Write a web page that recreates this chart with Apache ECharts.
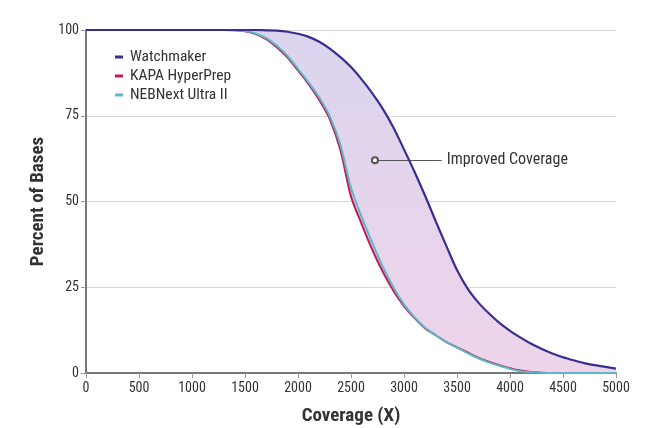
<!DOCTYPE html>
<html><head><meta charset="utf-8">
<script src="https://cdn.jsdelivr.net/npm/echarts@6/dist/echarts.min.js"></script>
<style>html,body{margin:0;padding:0;background:#fff}#c{width:646px;height:428px}</style>
</head><body><div id="c"></div>
<script>
var coverage = [0,100,200,300,400,500,600,700,800,900,1000,1100,1200,1300,1400,1500,1600,1700,1800,1900,2000,2100,2200,2300,2400,2500,2600,2700,2800,2900,3000,3100,3200,3300,3400,3500,3600,3700,3800,3900,4000,4100,4200,4300,4400,4500,4600,4700,4800,4900,5000];
var watchmaker = [100,100,100,100,100,100,100,100,100,100,100,100,100,100,100,100,100,99.9,99.8,99.5,98.9,98,96.6,94.6,92.1,89.2,85.6,81.6,77,71.6,65.2,58.6,51.6,44.2,37,30,24.6,20.6,17.4,14.6,12.3,10.3,8.5,7,5.7,4.6,3.7,2.9,2.3,1.8,1.3];
var kapa = [100,100,100,100,100,100,100,100,100,100,100,100,100,100,99.9,99.6,98.8,97.3,95,92,88.2,84.2,79.6,74,65,51.5,43.5,36,29.5,24,19.5,16,13,11,9,7.5,6,4.5,3.3,2.3,1.4,0.7,0.3,0.1,0,0,0,0,0,0,0];
var nebnext = [100,100,100,100,100,100,100,100,100,100,100,100,100,100,99.9,99.7,99,97.6,95.4,92.5,88.7,84.7,80.3,74.8,66.5,54,45.5,38,31,25,20,16.2,13.2,11,9,7.4,5.8,4.3,3.1,2.1,1.2,0.5,0.2,0.05,0,0,0,0,0,0,0];
var xTicks = [0,500,1000,1500,2000,2500,3000,3500,4000,4500,5000];
var yTicks = [0,25,50,75,100];
var annotation = {from:[2726,62], to:[3355,62], text:'Improved Coverage'};

var pairs = function(ys){ return coverage.map(function(x,i){ return [x, ys[i]]; }); };
var base = coverage.map(function(x,i){ return Math.min(kapa[i], nebnext[i]); });
var band = coverage.map(function(x,i){ return watchmaker[i] - Math.min(kapa[i], nebnext[i]); });

var font = '"Roboto Condensed","Liberation Sans Narrow",Roboto,sans-serif';
var chart = echarts.init(document.getElementById('c'));
chart.setOption({
  animation:false,
  textStyle:{fontFamily:font},
  grid:{left:86,right:30,top:30,bottom:55,containLabel:false,outerBoundsMode:'none'},
  legend:{
    left:110, top:43, orient:'vertical', itemGap:1, itemWidth:8, itemHeight:3,
    icon:'rect',
    textStyle:{fontFamily:font,fontSize:15.5,lineHeight:18,color:'#333',padding:[0,0,0,2]},
    data:['Watchmaker','KAPA HyperPrep','NEBNext Ultra II']
  },
  xAxis:[{
    type:'value', min:0, max:5000, interval:500,
    name:'Coverage (X)', nameLocation:'middle', nameGap:34,
    nameTextStyle:{fontFamily:font,fontSize:19,fontWeight:'bold',color:'#333'},
    axisLine:{lineStyle:{color:'#777',width:2}},
    axisTick:{show:true,length:5,lineStyle:{color:'#999'}},
    axisLabel:{color:'#333',fontSize:14,margin:8,fontFamily:font,formatter:function(v){return String(v);}},
    splitLine:{show:false}
  },{
    type:'category', data:coverage.map(String), boundaryGap:false, show:false
  }],
  yAxis:{
    type:'value', min:0, max:100, interval:25,
    name:'Percent of Bases', nameLocation:'middle', nameGap:34,
    nameTextStyle:{fontFamily:font,fontSize:19,fontWeight:'bold',color:'#333'},
    axisLine:{show:true,lineStyle:{color:'#777',width:2}},
    axisTick:{show:true,length:5,lineStyle:{color:'#999'}},
    axisLabel:{color:'#333',fontSize:14,margin:7,fontFamily:font},
    splitLine:{lineStyle:{color:'#d6d6d6'}}
  },
  series:[
    {name:'base',type:'line',xAxisIndex:1,stack:'b',data:base,symbol:'none',smooth:0.3,lineStyle:{width:0,opacity:0},silent:true,z:1},
    {name:'band',type:'line',xAxisIndex:1,stack:'b',data:band,symbol:'none',smooth:0.3,lineStyle:{width:0,opacity:0},silent:true,z:1,
      areaStyle:{opacity:0.9,color:new echarts.graphic.LinearGradient(0,0,0,1,[{offset:0,color:'#d8d0ee'},{offset:1,color:'#ecd0e8'}])}},
    {name:'KAPA HyperPrep',type:'line',data:pairs(kapa),symbol:'none',smooth:0.3,color:'#c2185b',lineStyle:{width:2,color:'#c2185b'},z:3},
    {name:'NEBNext Ultra II',type:'line',data:pairs(nebnext),symbol:'none',smooth:0.3,color:'#5bb8c4',lineStyle:{width:2,color:'#5bb8c4'},z:4},
    {name:'Watchmaker',type:'line',data:pairs(watchmaker),symbol:'none',smooth:0.3,color:'#3b2d8f',lineStyle:{width:2.2,color:'#3b2d8f'},z:5,
      markLine:{silent:true,symbol:['emptyCircle','none'],symbolSize:6,
        lineStyle:{color:'#555',width:1,type:'solid'},
        label:{show:true,position:'end',formatter:annotation.text,color:'#333',fontSize:16,fontFamily:font,distance:5},
        data:[[{coord:annotation.from},{coord:annotation.to}]]}}
  ]
});
</script></body></html>
